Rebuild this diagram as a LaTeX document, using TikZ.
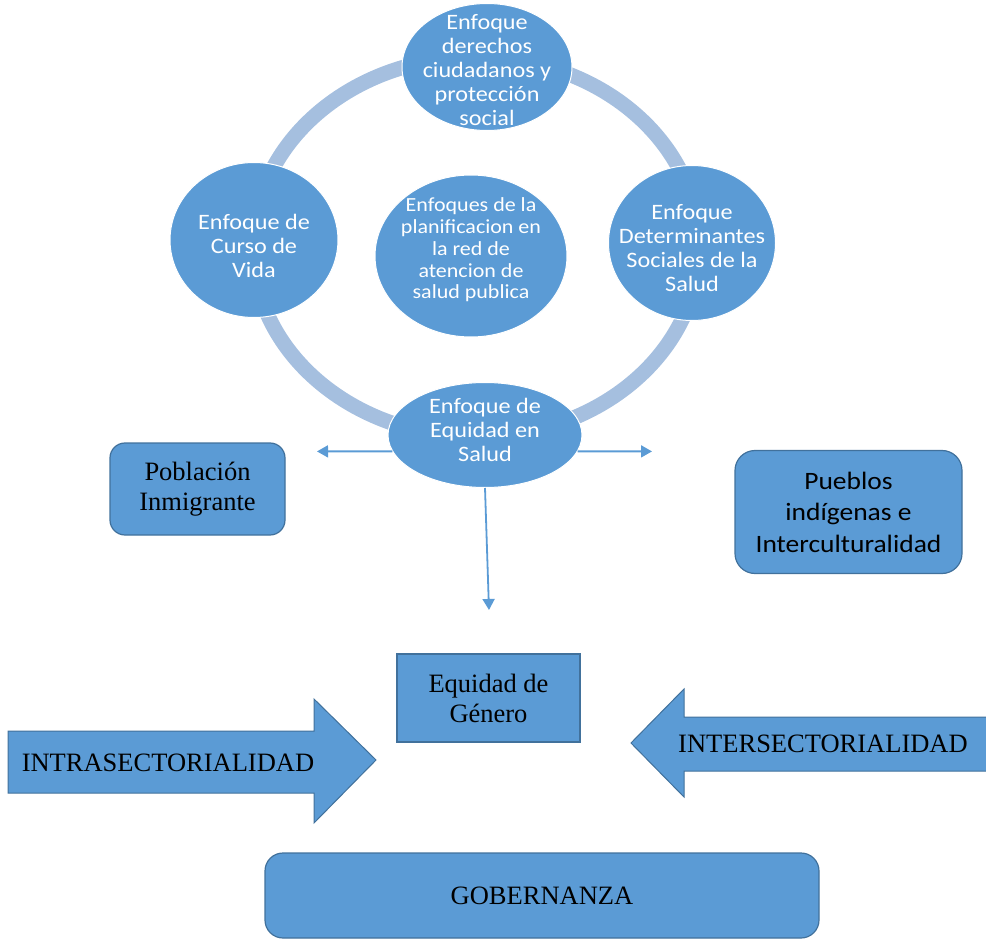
\documentclass[tikz,border=0pt]{standalone}
\usepackage{fontspec}
\setmainfont{Liberation Serif}
\newfontfamily\calibri[FakeStretch=1.1]{Carlito}
\usetikzlibrary{shapes.geometric,arrows.meta}
\definecolor{officeblue}{RGB}{91,155,213}
\definecolor{officeedge}{RGB}{65,113,156}
\definecolor{ringblue}{RGB}{165,191,223}

\begin{document}
\begin{tikzpicture}[x=1pt, y=-1pt,
  enfoque/.style={ellipse, fill=officeblue, draw=white, line width=1pt},
  etext/.style={text=white, align=center, font=\calibri\fontsize{22pt}{24pt}\selectfont},
  caja/.style={draw=officeedge, line width=1.2pt, fill=officeblue, align=center, font=\fontsize{26.5pt}{30pt}\selectfont},
  conn/.style={draw=officeblue, line width=1.8pt, -{Triangle[length=11pt, width=12pt]}},
  flecha/.style={draw=officeedge, line width=1pt, fill=officeblue}]
\clip (0,0) rectangle (986,941);
% anillo
\draw[ringblue, line width=15pt] (476,247) ellipse [x radius=223, y radius=190];
% enfoques
\node[enfoque, minimum width=170pt, minimum height=127pt, label={[etext, yshift=-3pt]center:{Enfoque\\derechos\\ciudadanos y\\protección\\social}}] (derechos) at (487,67) {};
\node[enfoque, minimum width=168pt, minimum height=155pt, label={[etext, yshift=-6pt]center:{Enfoque de\\Curso de\\Vida}}] (cursovida) at (254,240) {};
\node[enfoque, minimum width=167pt, minimum height=155pt, label={[etext, yshift=-5pt]center:{Enfoque\\Determinantes\\Sociales de la\\Salud}}] (determinantes) at (692,243) {};
\node[enfoque, minimum width=192pt, minimum height=162pt, label={[etext, yshift=6pt, font=\calibri\fontsize{20pt}{21.7pt}\selectfont]center:{Enfoques de la\\planificacion en\\la red de\\atencion de\\salud publica}}] (planificacion) at (471,256) {};
\node[enfoque, minimum width=194pt, minimum height=105pt, label={[etext, yshift=5pt]center:{Enfoque de\\Equidad en\\Salud}}] (equidadsalud) at (485,435) {};
% flechas desde equidad en salud
\coordinate (haciaizq) at (317,451.4);
\coordinate (haciader) at (652,451.4);
\coordinate (haciaabajo) at (489,610);
\draw[conn] (equidadsalud.190) -- (haciaizq);
\draw[conn] (equidadsalud.-10) -- (haciader);
\draw[conn] (equidadsalud.south) -- (haciaabajo);
% cajas
\node[caja, rounded corners=15pt, minimum width=175pt, minimum height=92pt] (inmigrante) at (197.5,489) {Población\\Inmigrante};
\node[caja, rounded corners=20pt, minimum width=227pt, minimum height=123pt, font=\calibri\fontsize{25pt}{31.5pt}\selectfont] (pueblos) at (848.5,512) {Pueblos\\indígenas e\\Interculturalidad};
\node[caja, minimum width=183pt, minimum height=88pt] (genero) at (488.5,698) {Equidad de\\Género};
\node[caja, rounded corners=18pt, minimum width=554pt, minimum height=85pt] (gobernanza) at (542,895.5) {GOBERNANZA};
% flechas grandes
\draw[flecha] (8,731) -- (314,731) -- (314,699) -- (376,760) -- (314,823) -- (314,793) -- (8,793) -- cycle;
\node[font=\fontsize{26.5pt}{30pt}\selectfont] (intra) at (168,763) {INTRASECTORIALIDAD};
\draw[flecha] (995,717) -- (684,717) -- (684,689) -- (631,743) -- (684,797) -- (684,771) -- (995,771) -- cycle;
\node[font=\fontsize{26.5pt}{30pt}\selectfont] (inter) at (823,744) {INTERSECTORIALIDAD};
\end{tikzpicture}
\end{document}
